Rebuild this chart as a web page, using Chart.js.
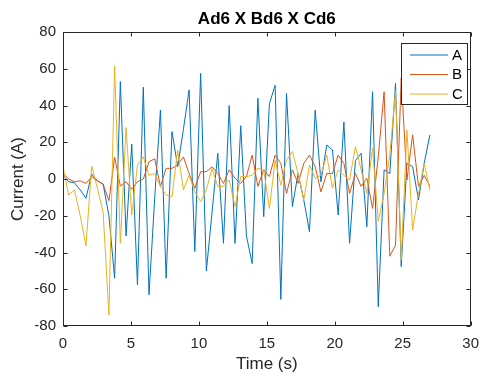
<!DOCTYPE html>
<html>
<head>
<meta charset="utf-8">
<script src="https://cdn.jsdelivr.net/npm/chart.js@4"></script>
<style>
    html, body { margin: 0; padding: 0; background: #fff; }
    canvas { display: block; }
</style>
</head>
<body>
<canvas id="grafico" width="488" height="376"></canvas>
<script>
// ===== datos =====
const chartTitle = 'Ad6 X Bd6 X Cd6';
const xLabel = 'Time (s)';
const yLabel = 'Current (A)';
const xTicks = [0, 5, 10, 15, 20, 25, 30];
const yTicks = [-80, -60, -40, -20, 0, 20, 40, 60, 80];

const tiempos = [0, 0.42, 0.84, 1.27, 1.69, 2.11, 2.53, 2.95, 3.38, 3.80, 4.22, 4.64, 5.06, 5.48,
    5.91, 6.33, 6.75, 7.17, 7.59, 8.02, 8.44, 8.86, 9.28, 9.70, 10.13, 10.55, 10.97, 11.39, 11.81,
    12.23, 12.66, 13.08, 13.50, 13.92, 14.34, 14.77, 15.19, 15.61, 16.03, 16.45, 16.88, 17.30,
    17.72, 18.14, 18.56, 18.98, 19.41, 19.83, 20.25, 20.67, 21.09, 21.52, 21.94, 22.36, 22.78,
    23.20, 23.63, 24.05, 24.47, 24.89, 25.31, 25.73, 26.16, 26.58, 27.00];

const serieA = [2, -1.5, -2, -6, -10.5, 2.7, -1, -2.7, -20, -54, 53, -31, 19, -57.7,
    50, -63, -10, 37.5, -54, 25.8, 6.7, 27, 48.5, -39.5, 57.5, -50, -18, 14, -35,
    40, -35, 29, -31, -46, 44, -20.5, 41, 51, -65.5, 46.6, -15, 3,
    -11.4, -28.7, 37.5, -1.5, 18.5, 15.8, -19.6, 31, -35, 10, 14, -26, 47.5,
    -69.5, 5, 3, 52, -47.7, 8.5, 6.7, -11.4, 8.5, 24];

const serieB = [3, 0, -1.5, -1, -2.4, 1.3, -1, -2.7, -11.8, 11.8, -3.8, -1.5, -5.6, -1.5,
    0, 9.4, 11, -4, 5.8, 5.8, 7.6, 12, 3, -5, 4, 4, 6.7, 3, -2.4,
    5, 0.4, -2.4, 1.3, 13, -4, 5, 1.3, 13, 8.5, -7.8, 5, -2.4,
    8.5, 13, 6.7, -7, 3, 3, 13, 8.5, -7.8, 3, -4, 0.4, -16,
    12, 47.5, -42, -36, 55, -0.5, 24, -4, 2, -4];

const serieC = [6.7, -8.7, -6, -20, -36.5, 7, -5, -17.8, -74, 61.5, -35, 28, -19.6, 7.6,
    12, 2, 3, -4, -8.7, -9.6, 15.8, -6, 2, -7, -12.3, -6, 5.8, -4, -4,
    -0.5, -15, 1.3, 1.3, 2, 5.8, 5, -16, 10.3, -3.3, 10.3, 15, 3,
    -11.4, 7.6, 0.4, 2, 13, -5, 5, 2, -0.5, 17.6, 5, -7.8, 16.7,
    -23, -7.8, 13, 48, -44, 26.7, -27.7, -7.8, 8.5, -6];

const nombres = ['A', 'B', 'C'];
const colores = ['#0072BD', '#D95319', '#EDB120'];

const FUENTE = '"Liberation Sans", Arial, Helvetica, sans-serif';
const GRIS = '#262626';

const aPuntos = (valores) => valores.map((v, i) => ({ x: tiempos[i], y: v }));

// marco tipo MATLAB: caja, ticks hacia adentro, titulo y leyenda
const marcoMatlab = {
    id: 'marcoMatlab',
    afterDraw(chart) {
        const { ctx, chartArea: a, scales } = chart;
        const L = Math.round(a.left) + 0.5, R = Math.round(a.right) - 0.5;
        const T = Math.round(a.top) + 0.5, B = Math.round(a.bottom) - 0.5;
        const tick = 4;

        ctx.save();
        ctx.strokeStyle = GRIS;
        ctx.lineWidth = 1;
        ctx.strokeRect(L, T, R - L, B - T);

        ctx.beginPath();
        xTicks.forEach(v => {
            const px = Math.round(scales.x.getPixelForValue(v)) + 0.5;
            ctx.moveTo(px, B); ctx.lineTo(px, B - tick);
            ctx.moveTo(px, T); ctx.lineTo(px, T + tick);
        });
        yTicks.forEach(v => {
            const py = Math.round(scales.y.getPixelForValue(v)) + 0.5;
            ctx.moveTo(L, py); ctx.lineTo(L + tick, py);
            ctx.moveTo(R, py); ctx.lineTo(R - tick, py);
        });
        ctx.stroke();

        // titulo
        ctx.fillStyle = '#000';
        ctx.font = 'bold 17px ' + FUENTE;
        ctx.textAlign = 'center';
        ctx.textBaseline = 'middle';
        ctx.fillText(chartTitle, (a.left + a.right) / 2, 19);

        // leyenda
        const lx = 401.5, ly = 43.5, lw = 66, lh = 61;
        ctx.fillStyle = '#fff';
        ctx.fillRect(lx, ly, lw, lh);
        ctx.strokeStyle = GRIS;
        ctx.strokeRect(lx, ly, lw, lh);
        ctx.font = '15px ' + FUENTE;
        ctx.textAlign = 'left';
        chart.data.datasets.forEach((ds, i) => {
            const y = 55 + i * 19.5;
            ctx.strokeStyle = ds.borderColor;
            ctx.beginPath();
            ctx.moveTo(410, y); ctx.lineTo(448, y);
            ctx.stroke();
            ctx.fillStyle = '#000';
            ctx.fillText(ds.label, 452, y + 0.5);
        });
        ctx.restore();
    }
};

const series = [serieA, serieB, serieC];

new Chart(document.getElementById('grafico'), {
    type: 'line',
    data: {
        datasets: series.map((s, i) => ({
            label: nombres[i],
            data: aPuntos(s),
            borderColor: colores[i],
            borderWidth: 1,
            pointRadius: 0,
            tension: 0,
            order: 3 - i
        }))
    },
    options: {
        responsive: false,
        animation: false,
        layout: { padding: { top: 32, right: 9, left: 0, bottom: 0 } },
        plugins: { legend: { display: false }, tooltip: { enabled: false }, title: { display: false } },
        scales: {
            x: {
                type: 'linear', min: 0, max: 30,
                afterFit: s => { s.height = 50; },
                afterBuildTicks: s => { s.ticks = xTicks.map(v => ({ value: v })); },
                grid: { display: false, drawTicks: false },
                border: { display: false },
                ticks: { color: GRIS, padding: 9, maxRotation: 0, font: { family: FUENTE, size: 15 } },
                title: { display: true, text: xLabel, color: GRIS, padding: { top: 0, bottom: 1 }, font: { family: FUENTE, size: 17 } }
            },
            y: {
                type: 'linear', min: -80, max: 80,
                afterFit: s => { s.width = 63; },
                afterBuildTicks: s => { s.ticks = yTicks.map(v => ({ value: v })); },
                grid: { display: false, drawTicks: false },
                border: { display: false },
                ticks: { color: GRIS, padding: 7, font: { family: FUENTE, size: 15 } },
                title: { display: true, text: yLabel, color: GRIS, padding: { top: 8, bottom: 0 }, font: { family: FUENTE, size: 17 } }
            }
        }
    },
    plugins: [marcoMatlab]
});
</script>
</body>
</html>
